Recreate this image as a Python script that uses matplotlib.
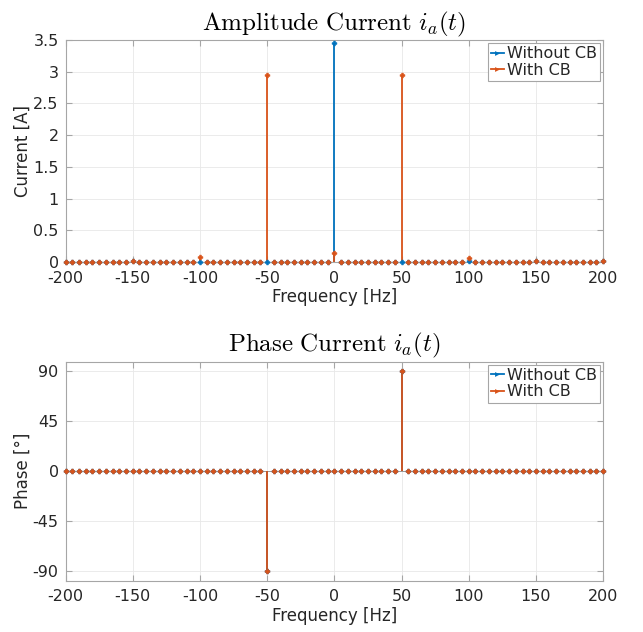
import numpy as np
import matplotlib
matplotlib.use("Agg")
import matplotlib.pyplot as plt
from matplotlib.legend_handler import HandlerLine2D
from matplotlib.lines import Line2D

plt.rcParams['mathtext.fontset'] = 'cm'
plt.rcParams['font.family'] = ['DejaVu Sans']
plt.rcParams['axes.unicode_minus'] = False

# Frequency bins (Hz), 5 Hz spacing from -200 to 200
freq = list(range(-200, 201, 5))

# Amplitude [A]
amp_without_cb = [
    0.01, 0, 0, 0, 0, 0, 0, 0, 0, 0,
    0.02, 0, 0, 0, 0, 0, 0, 0, 0, 0,
    0.01, 0, 0, 0, 0, 0, 0, 0, 0, 0.01,
    0, 0, 0, 0, 0, 0, 0, 0, 0, 0,
    3.45, 0, 0, 0, 0, 0, 0, 0, 0, 0,
    0, 0.01, 0, 0, 0, 0, 0, 0, 0, 0,
    0.02, 0, 0, 0, 0, 0, 0, 0, 0, 0,
    0.02, 0, 0, 0, 0, 0, 0, 0, 0, 0,
    0.02,
]
amp_with_cb = [
    0.01, 0, 0, 0, 0, 0, 0, 0, 0, 0,
    0.02, 0, 0, 0, 0, 0, 0, 0, 0, 0,
    0.08, 0, 0, 0, 0, 0, 0, 0, 0.005, 0.01,
    2.95, 0, 0, 0, 0, 0, 0, 0, 0, 0,
    0.15, 0, 0, 0, 0, 0, 0, 0, 0, 0,
    2.95, 0.01, 0, 0, 0, 0, 0, 0, 0, 0,
    0.07, 0, 0, 0, 0, 0, 0, 0, 0, 0,
    0.02, 0, 0, 0, 0, 0, 0, 0, 0, 0,
    0.02,
]

# Phase [deg]
phase_without_cb = [
    0, 0, 0, 0, 0, 0, 0, 0, 0, 0,
    0, 0, 0, 0, 0, 0, 0, 0, 0, 0,
    0, 0, 0, 0, 0, 0, 0, 0, 0, 0,
    -90, 0, 0, 0, 0, 0, 0, 0, 0, 0,
    0, 0, 0, 0, 0, 0, 0, 0, 0, 0,
    90, 0, 0, 0, 0, 0, 0, 0, 0, 0,
    0, 0, 0, 0, 0, 0, 0, 0, 0, 0,
    0, 0, 0, 0, 0, 0, 0, 0, 0, 0,
    0,
]
phase_with_cb = list(phase_without_cb)

labels = ['Without CB', 'With CB']
x_ticks = [-200, -150, -100, -50, 0, 50, 100, 150, 200]
amp_ticks = [0, 0.5, 1, 1.5, 2, 2.5, 3, 3.5]
amp_tick_labels = ['0', '0.5', '1', '1.5', '2', '2.5', '3', '3.5']
phase_ticks = [-90, -45, 0, 45, 90]

BLUE = (0.0, 0.447, 0.741)
ORANGE = (0.85, 0.325, 0.098)
TXT = '#262626'
SPINE = '#a6a6a6'

fig = plt.figure(figsize=(6.43, 6.32), dpi=100)
ax1 = fig.add_axes([0.102, 0.585, 0.836, 0.352])
ax2 = fig.add_axes([0.102, 0.081, 0.836, 0.347])


def draw_stem(ax, y, color, label):
    ml, sl, bl = ax.stem(freq, y)
    plt.setp(sl, color=color, linewidth=1.3, zorder=2)
    plt.setp(ml, color=color, marker='P', markersize=3.4, markeredgewidth=0.5,
             markeredgecolor=color, markerfacecolor=color, zorder=3, clip_on=False)
    plt.setp(bl, color='#999999', linewidth=0.6, zorder=1)
    return Line2D([], [], color=color, linewidth=1.3, marker='>',
                  markersize=3.5, markeredgewidth=0, label=label)


class EndMarker(HandlerLine2D):
    def get_xdata(self, legend, xdescent, ydescent, width, height, fontsize):
        xdata = np.array([-xdescent, -xdescent + width])
        return xdata, np.array([-xdescent + width - 1.5])


def style(ax):
    ax.set_xlim(-200, 200)
    ax.set_xticks(x_ticks)
    ax.grid(True, color='#e8e8e8', linewidth=0.6)
    ax.set_axisbelow(True)
    for s in ax.spines.values():
        s.set_color(SPINE)
        s.set_linewidth(0.8)
    ax.tick_params(direction='in', length=4, color=SPINE, labelsize=11.5,
                   labelcolor=TXT, top=True, right=True, pad=5)
    ax.tick_params(axis='x', pad=6)
    ax.set_xlabel('Frequency [Hz]', fontsize=12, color=TXT, labelpad=2)


h1 = draw_stem(ax1, amp_without_cb, BLUE, labels[0])
h2 = draw_stem(ax1, amp_with_cb, ORANGE, labels[1])
style(ax1)
ax1.set_ylim(0, 3.5)
ax1.set_yticks(amp_ticks)
ax1.set_yticklabels(amp_tick_labels)
ax1.set_ylabel('Current [A]', fontsize=12, color=TXT, labelpad=1)
ax1.set_title(r'$\mathrm{Amplitude\ Current}\ i_a(t)$', fontsize=18, pad=7)

h3 = draw_stem(ax2, phase_without_cb, BLUE, labels[0])
h4 = draw_stem(ax2, phase_with_cb, ORANGE, labels[1])
style(ax2)
ax2.set_ylim(-99, 99)
ax2.set_yticks(phase_ticks)
ax2.set_ylabel('Phase [°]', fontsize=12, color=TXT, labelpad=1)
ax2.set_title(r'$\mathrm{Phase\ Current}\ i_a(t)$', fontsize=18, pad=7)

for ax, hs in ((ax1, [h1, h2]), (ax2, [h3, h4])):
    leg = ax.legend(handles=hs, loc='upper right', fontsize=11.5, handlelength=0.8,
                    handletextpad=0.2, borderpad=0.2, labelspacing=0.1,
                    borderaxespad=0.2, fancybox=False, framealpha=1,
                    handler_map={Line2D: EndMarker(numpoints=1)})
    leg.get_frame().set_edgecolor('#a6a6a6')
    leg.get_frame().set_linewidth(0.8)
    for t in leg.get_texts():
        t.set_color(TXT)

fig.savefig('out.png', dpi=100)
